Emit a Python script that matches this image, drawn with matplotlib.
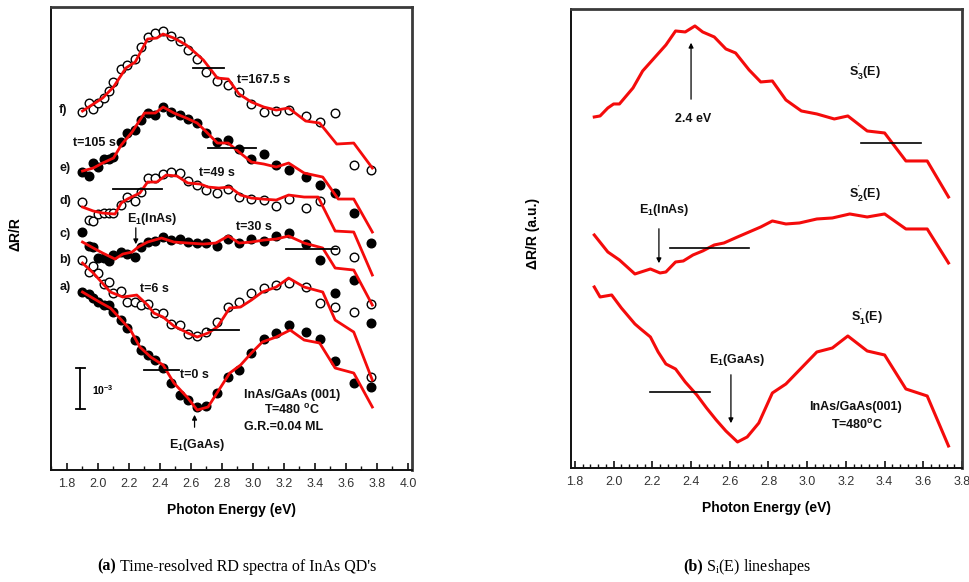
import matplotlib
matplotlib.use("Agg")
import matplotlib.pyplot as plt
from matplotlib.ticker import MultipleLocator

plt.rcParams["font.family"] = ["Liberation Sans", "DejaVu Sans"]

# ---- (a) time-resolved RD spectra: energies of the measured points (eV)
GRID_A = [1.90, 1.94, 1.97, 2.00, 2.04, 2.07, 2.10, 2.15, 2.19, 2.24, 2.28,
          2.32, 2.37, 2.42, 2.47, 2.53, 2.58, 2.64, 2.70, 2.77, 2.84, 2.91,
          2.99, 3.07, 3.15, 3.23, 3.34, 3.43, 3.53, 3.65, 3.76]

# measured dR/R with offsets (arb. units)
PTS_F = [358, 367, 361, 367, 372, 379, 388, 401, 405, 411, 423, 433, 437, 439,
         434, 429, 420, 411, 398, 389, 385, 378, 366, 358, 359, 360, 354, 348,
         357, 305, 300]
PTS_E = [298, 294, 307, 303, 311, 311, 313, 328, 337, 340, 350, 357, 355, 363,
         358, 355, 351, 347, 337, 328, 330, 321, 311, 316, 305, 300, 293, 285,
         277, 257, 227]
PTS_D = [268, 250, 249, 256, 257, 257, 257, 265, 273, 269, 278, 292, 292, 296,
         298, 297, 289, 285, 280, 277, 281, 273, 271, 270, 264, 271, 262, 269,
         220, 213, 166]
PTS_C = [238, 224, 223, 212, 212, 209, 215, 218, 216, 213, 223, 228, 229, 233,
         230, 231, 228, 227, 227, 224, 231, 227, 231, 229, 234, 237, 226, 210,
         177, 190, 147]
PTS_B = [210, 198, 204, 197, 186, 188, 177, 179, 168, 168, 165, 166, 157, 157,
         146, 145, 136, 134, 138, 148, 163, 168, 177, 182, 185, 187, 183, 167,
         163, 158, 93]
PTS_A = [178, 176, 172, 168, 165, 165, 158, 150, 142, 130, 120, 115, 110, 102,
         87, 75, 70, 63, 64, 77, 93, 100, 117, 131, 137, 145, 138, 131,
         109, 87, 83]

# fitted curves (red)
FIT_F_E = [1.90, 2.03, 2.10, 2.18, 2.24, 2.32, 2.38, 2.42, 2.49, 2.57, 2.63, 2.68,
           2.77, 2.84, 2.91, 2.99, 3.07, 3.15, 3.23, 3.34, 3.43, 3.54, 3.65, 3.77]
FIT_F = [359, 372, 383, 402, 408, 431, 432, 436, 432, 425, 417, 410,
         392, 391, 376, 368, 363, 360, 362, 349, 347, 326, 327, 302]
FIT_E_E = [1.90, 1.97, 2.03, 2.10, 2.15, 2.22, 2.30, 2.37, 2.42, 2.49, 2.57, 2.64,
           2.70, 2.77, 2.84, 2.91, 2.99, 3.07, 3.15, 3.23, 3.33, 3.45, 3.55, 3.65, 3.77]
FIT_E = [299, 302, 307, 312, 325, 338, 357, 357, 363, 357, 352, 347,
         338, 327, 327, 318, 308, 306, 303, 307, 297, 293, 271, 271, 238]
FIT_D_E = [1.90, 1.97, 2.03, 2.11, 2.15, 2.19, 2.27, 2.32, 2.38, 2.44, 2.51, 2.58,
           2.66, 2.71, 2.78, 2.85, 2.92, 2.99, 3.06, 3.15, 3.23, 3.33, 3.42, 3.53,
           3.65, 3.77]
FIT_D = [263, 259, 257, 256, 267, 271, 277, 288, 288, 295, 294, 287,
         286, 283, 282, 283, 275, 272, 271, 270, 275, 273, 273, 239,
         238, 195]
FIT_C_E = [1.90, 1.97, 2.03, 2.11, 2.16, 2.22, 2.26, 2.32, 2.41, 2.49, 2.58, 2.68,
           2.76, 2.84, 2.91, 2.99, 3.07, 3.15, 3.23, 3.33, 3.45, 3.53, 3.65, 3.77]
FIT_C = [228, 222, 217, 211, 216, 218, 223, 228, 232, 228, 227, 226,
         227, 234, 227, 228, 230, 231, 234, 227, 222, 202, 200, 165]
FIT_B_E = [1.90, 1.97, 2.08, 2.16, 2.25, 2.32, 2.36, 2.42, 2.49, 2.58, 2.64, 2.71,
           2.77, 2.85, 2.92, 2.99, 3.06, 3.15, 3.23, 3.33, 3.45, 3.53, 3.65, 3.77]
FIT_B = [207, 197, 178, 173, 175, 165, 157, 153, 144, 137, 133, 137,
         143, 162, 163, 170, 178, 183, 192, 183, 178, 150, 138, 90]
FIT_A_E = [1.90, 2.01, 2.08, 2.14, 2.21, 2.27, 2.34, 2.42, 2.49, 2.58, 2.64, 2.71,
           2.78, 2.85, 2.92, 2.99, 3.06, 3.15, 3.24, 3.33, 3.43, 3.53, 3.65, 3.77]
FIT_A = [178, 168, 162, 152, 140, 123, 113, 105, 87, 72, 60, 63,
         80, 97, 105, 117, 128, 133, 140, 130, 127, 102, 97, 63]

# zero-level marks: (E start, E end, level)
BASE_A = [(2.61, 2.81, 402), (2.71, 3.02, 322), (2.10, 2.41, 281),
          (3.21, 3.54, 221), (2.71, 2.91, 140), (2.30, 2.52, 100)]
CURVE_LABELS = ["f)", "e)", "d)", "c)", "b)", "a)"]
CURVE_LABEL_Y = [360, 302, 269, 236, 210, 183]
TIME_LABELS = ["t=167.5 s", "t=105 s", "t=49 s", "t=30 s", "t=6 s", "t=0 s"]
TIME_POS = [(2.90, 390), (1.84, 327), (2.65, 297), (2.89, 243), (2.27, 181), (2.53, 95)]

# ---- (b) S'_i(E) lineshapes
S3_E = [1.90, 1.93, 1.97, 2.00, 2.03, 2.10, 2.15, 2.27, 2.32, 2.37, 2.42, 2.46, 2.52,
        2.58, 2.63, 2.70, 2.76, 2.82, 2.89, 2.97, 3.05, 3.14, 3.21, 3.31, 3.40,
        3.51, 3.62, 3.73]
S3 = [351, 352, 360, 364, 364, 380, 397, 423, 437, 436, 442, 436, 431,
      419, 415, 398, 386, 387, 368, 357, 354, 349, 352, 337, 335,
      307, 307, 271]
S2_E = [1.90, 1.97, 2.03, 2.11, 2.19, 2.24, 2.27, 2.32, 2.36, 2.41, 2.46, 2.52, 2.57,
        2.64, 2.76, 2.82, 2.89, 2.96, 3.05, 3.13, 3.22, 3.31, 3.40, 3.51, 3.62, 3.73]
S2 = [233, 216, 208, 194, 199, 195, 196, 206, 207, 213, 217, 223, 225,
      231, 241, 247, 244, 245, 249, 250, 254, 251, 254, 239, 239, 205]
S1_E = [1.90, 1.93, 1.99, 2.04, 2.11, 2.14, 2.19, 2.23, 2.27, 2.32, 2.37, 2.43, 2.48,
        2.53, 2.58, 2.64, 2.69, 2.75, 2.82, 2.89, 2.96, 3.05, 3.13, 3.21, 3.31,
        3.40, 3.51, 3.62, 3.73]
S1 = [181, 171, 173, 160, 144, 139, 131, 116, 104, 99, 86, 73, 60,
      48, 37, 26, 31, 45, 75, 84, 98, 116, 120, 132, 117,
      113, 79, 72, 22]
BASE_B = [(3.28, 3.59, 325), (2.29, 2.70, 220), (2.19, 2.50, 76)]

RED = "#f40b0b"
BOLD = dict(fontsize=9, fontweight="bold", color="#111111")


def style_axes(ax, minor):
    for side in ["left", "bottom"]:
        ax.spines[side].set_color("#111111")
        ax.spines[side].set_linewidth(1.4)
    for side in ["right", "top"]:
        ax.spines[side].set_color("#3a3a3a")
        ax.spines[side].set_linewidth(2.0)
    ax.set_yticks([])
    ax.xaxis.set_major_locator(MultipleLocator(0.2))
    ax.xaxis.set_minor_locator(MultipleLocator(minor))
    ax.xaxis.set_major_formatter(plt.FuncFormatter(lambda v, p: f"{v:.1f}"))
    ax.tick_params(axis="x", which="major", direction="in", length=5, width=1.2,
                   labelsize=9, colors="#111111", labelcolor="#333333", pad=6)
    ax.tick_params(axis="x", which="minor", direction="in", length=3, width=1.0,
                   colors="#111111")
    ax.set_xlabel("Photon Energy (eV)", fontsize=10, fontweight="bold", labelpad=9)


def arrow(ax, x, y_from, y_to):
    ax.annotate("", xy=(x, y_to), xytext=(x, y_from),
                arrowprops=dict(arrowstyle="-|>", color="black", lw=0.9,
                                mutation_scale=7))


def main():
    fig = plt.figure(figsize=(9.7, 5.82), dpi=100)

    # ---------------- panel (a)
    ax = fig.add_axes([0.0526, 0.1924, 0.372, 0.7955])
    pts = [PTS_F, PTS_E, PTS_D, PTS_C, PTS_B, PTS_A]
    filled = [False, True, False, True, False, True]
    fits = [(FIT_F_E, FIT_F), (FIT_E_E, FIT_E), (FIT_D_E, FIT_D),
            (FIT_C_E, FIT_C), (FIT_B_E, FIT_B), (FIT_A_E, FIT_A)]
    for p, fl, (fe, fv) in zip(pts, filled, fits):
        ax.plot(GRID_A, p, "o", ms=6.2, mew=1.0, mec="black",
                mfc="black" if fl else "white", zorder=2)
        ax.plot(fe, fv, color=RED, lw=2.0, zorder=3)
    for x0, x1, lev in BASE_A:
        ax.plot([x0, x1], [lev, lev], color="black", lw=1.3, zorder=4)
    for lab, y in zip(CURVE_LABELS, CURVE_LABEL_Y):
        ax.text(1.75, y, lab, ha="left", va="center", **BOLD)
    for lab, (x, y) in zip(TIME_LABELS, TIME_POS):
        ax.text(x, y, lab, ha="left", va="center", **BOLD)

    ax.text(2.35, 251, r"E$_\mathregular{1}$(InAs)", ha="center", va="center", **BOLD)
    arrow(ax, 2.244, 245, 223)
    ax.text(2.64, 25, r"E$_\mathregular{1}$(GaAs)", ha="center", va="center", **BOLD)
    arrow(ax, 2.623, 40, 58)

    ax.text(2.945, 75, "InAs/GaAs (001)", ha="left", va="center", **BOLD)
    ax.text(3.25, 60, r"T=480 $^\mathregular{o}$C", ha="center", va="center", **BOLD)
    ax.text(2.945, 43, "G.R.=0.04 ML", ha="left", va="center", **BOLD)

    # 10^-3 scale bar
    ax.plot([1.885, 1.885], [61, 102], color="black", lw=1.3)
    ax.plot([1.855, 1.915], [61, 61], color="black", lw=1.3)
    ax.plot([1.855, 1.915], [102, 102], color="black", lw=1.3)
    ax.text(1.96, 80, r"10$^\mathregular{-3}$", ha="left", va="center",
            fontsize=7.5, fontweight="bold")

    ax.set_xlim(1.697, 4.025)
    ax.set_ylim(0, 463)
    style_axes(ax, 0.1)
    ax.set_ylabel("ΔR/R", fontsize=10, fontweight="bold")
    ax.yaxis.set_label_coords(-0.078, 0.51)

    # ---------------- panel (b)
    bx = fig.add_axes([0.5887, 0.1959, 0.4031, 0.7887])
    for e, s in [(S3_E, S3), (S2_E, S2), (S1_E, S1)]:
        bx.plot(e, s, color=RED, lw=2.2)
    for x0, x1, lev in BASE_B:
        bx.plot([x0, x1], [lev, lev], color="black", lw=1.2)

    arrow(bx, 2.40, 366, 428)
    bx.text(2.41, 349, "2.4 eV", ha="center", va="center", **BOLD)
    bx.text(3.30, 396, r"S$_\mathregular{3}^\mathregular{'}$(E)", ha="center",
            va="center", **BOLD)
    bx.text(3.30, 274, r"S$_\mathregular{2}^\mathregular{'}$(E)", ha="center",
            va="center", **BOLD)
    bx.text(3.31, 151, r"S$_\mathregular{1}^\mathregular{'}$(E)", ha="center",
            va="center", **BOLD)
    bx.text(2.26, 258, r"E$_\mathregular{1}$(InAs)", ha="center", va="center", **BOLD)
    arrow(bx, 2.234, 242, 202)
    bx.text(2.64, 108, r"E$_\mathregular{1}$(GaAs)", ha="center", va="center", **BOLD)
    arrow(bx, 2.606, 96, 42)
    bx.text(3.25, 61, "InAs/GaAs(001)", ha="center", va="center", **BOLD)
    bx.text(3.26, 43, r"T=480$^\mathregular{o}$C", ha="center", va="center", **BOLD)

    bx.set_xlim(1.78, 3.80)
    bx.set_ylim(0, 459)
    style_axes(bx, 0.04)
    bx.set_ylabel("ΔR/R (a.u.)", fontsize=10, fontweight="bold")
    bx.yaxis.set_label_coords(-0.079, 0.51)

    # captions
    cap = dict(fontsize=11.5, family=["Liberation Serif", "DejaVu Serif"], va="center")
    fig.text(0.100, 0.026, "(a)", fontweight="bold", **cap)
    fig.text(0.124, 0.026, "Time-resolved RD spectra of InAs QD's", **cap)
    fig.text(0.704, 0.026, "(b)", fontweight="bold", **cap)
    fig.text(0.728, 0.026, r"S$_\mathregular{i}$(E) lineshapes", **cap)

    fig.savefig("out.png", dpi=100)
    plt.close(fig)


if __name__ == "__main__":
    main()
